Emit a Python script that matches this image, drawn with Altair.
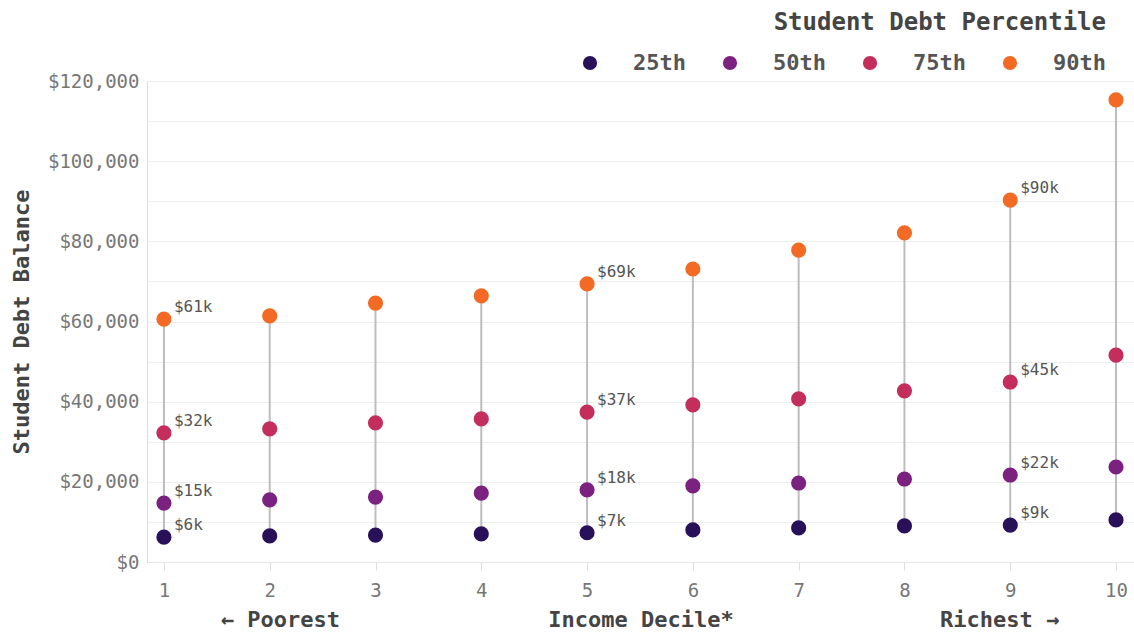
import altair as alt
import pandas as pd

# Income deciles (1 = poorest, 10 = richest)
deciles = [1, 2, 3, 4, 5, 6, 7, 8, 9, 10]

# Student debt balance (USD) at each debt percentile, per income decile
p25 = [6200, 6500, 6700, 7000, 7300, 8000, 8500, 9000, 9200, 10500]
p50 = [14700, 15500, 16200, 17200, 18000, 19000, 19700, 20700, 21700, 23700]
p75 = [32200, 33200, 34700, 35700, 37400, 39200, 40700, 42700, 44900, 51600]
p90 = [60600, 61400, 64600, 66400, 69400, 73100, 77800, 82100, 90300, 115300]

percentiles = ["25th", "50th", "75th", "90th"]
colors = ["#29115a", "#7b2180", "#c42e5c", "#f26a23"]

# Deciles whose points carry a value label
labelled = [1, 5, 9]

# Bottom annotations on either side of the axis title
side_text = ["← Poorest", "Richest →"]
side_at = [2.1, 8.9]

FONT = "DejaVu Sans Mono"

rows = []
for name, series in zip(percentiles, [p25, p50, p75, p90]):
    for d, v in zip(deciles, series):
        rows.append({"decile": d, "percentile": name, "debt": v})
df = pd.DataFrame(rows)

sides = pd.DataFrame({"decile": side_at, "text": side_text})

W, H = 987, 481

x_scale = alt.Scale(domain=[0.84, 10.17], nice=False, zero=False)
y_scale = alt.Scale(domain=[0, 120000], nice=False)

x_axis = alt.Axis(
    values=deciles, format="d", grid=False, domainColor="#e6e6e6",
    tickColor="#dddddd", tickSize=8, labelFontSize=19, labelColor="#777777",
    labelPadding=11, labelFont=FONT, title="Income Decile*", titleFont=FONT,
    titleFontSize=22, titleFontWeight="bold", titleColor="#444444",
    titlePadding=9,
)
y_axis = alt.Axis(
    values=list(range(0, 120001, 10000)),
    labelExpr="datum.value % 20000 == 0 ? format(datum.value, '$,') : ''",
    grid=True, gridColor="#eeeeee", gridWidth=1.2, domain=False, ticks=False,
    labelFontSize=19, labelColor="#777777", labelPadding=8, labelFont=FONT,
    title="Student Debt Balance", titleFont=FONT, titleFontSize=22,
    titleFontWeight="bold", titleColor="#444444", titlePadding=14,
)

base = alt.Chart(df)

rules = base.mark_rule(color="#bdbdbd", strokeWidth=2).encode(
    x=alt.X("decile:Q", scale=x_scale, axis=x_axis),
    y=alt.Y("min(debt):Q", scale=y_scale, axis=y_axis),
    y2="max(debt):Q",
)

points = base.mark_circle(size=230, opacity=1).encode(
    x=alt.X("decile:Q", scale=x_scale),
    y=alt.Y("debt:Q", scale=y_scale),
    color=alt.Color(
        "percentile:N",
        scale=alt.Scale(domain=percentiles, range=colors),
        legend=alt.Legend(
            title="Student Debt Percentile", orient="none", direction="horizontal",
            legendX=432, legendY=-70, titleAnchor="end", titleFont=FONT,
            titleFontSize=24, titleFontWeight="bold", titleColor="#444444",
            titlePadding=17, titleLimit=600, labelFont=FONT, labelFontSize=22,
            labelFontWeight="bold", labelColor="#555555", labelOffset=32,
            columnPadding=33, symbolType="circle", symbolSize=200,
            symbolStrokeWidth=0, padding=0,
        ),
    ),
)

labels = base.transform_filter(
    alt.FieldOneOfPredicate(field="decile", oneOf=labelled)
).transform_calculate(
    label="'$' + format(datum.debt / 1000, '.0f') + 'k'"
).mark_text(
    align="left", baseline="middle", dx=10, dy=-12, font=FONT, fontSize=16,
    color="#555555",
).encode(
    x=alt.X("decile:Q", scale=x_scale),
    y=alt.Y("debt:Q", scale=y_scale),
    text="label:N",
)

side_labels = alt.Chart(sides).mark_text(
    font=FONT, fontSize=22, fontWeight="bold", color="#444444", baseline="middle",
).encode(
    x=alt.X("decile:Q", scale=x_scale),
    y=alt.value(H + 58),
    text="text:N",
)

chart = alt.layer(rules, points, labels, side_labels).properties(
    width=W, height=H
).configure_view(stroke=None).configure(
    padding={"top": 11, "left": 10, "right": 0, "bottom": 5}
)

chart.save("out.html", embed_options={"renderer": "svg", "actions": False})
